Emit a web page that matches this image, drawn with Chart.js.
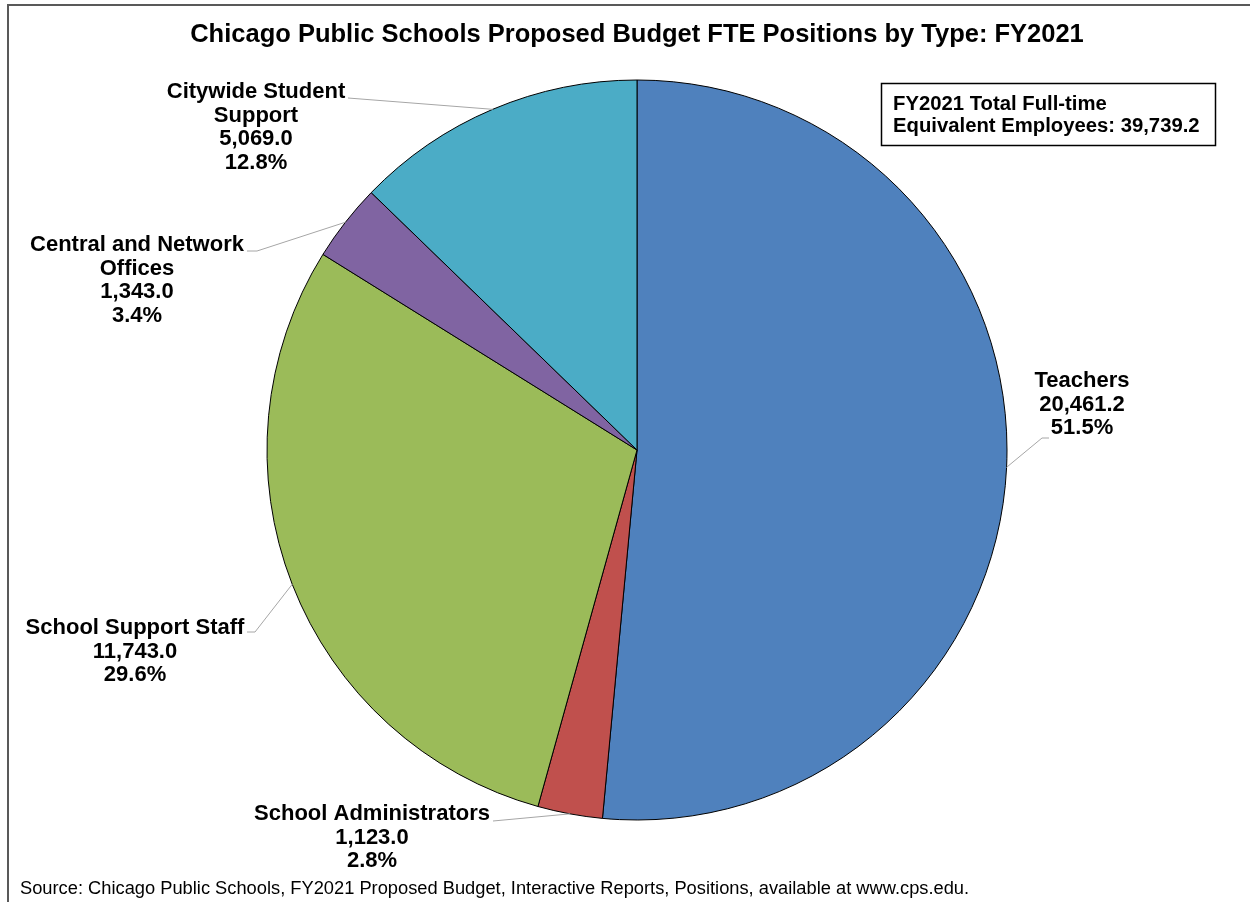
<!DOCTYPE html>
<html>
<head>
<meta charset="utf-8">
<title>CPS FTE Positions by Type FY2021</title>
<script src="https://cdn.jsdelivr.net/npm/chart.js@4"></script>
<style>
  html, body { margin: 0; padding: 0; background: #fff; }
  #wrap { width: 1250px; height: 902px; }
</style>
</head>
<body>
<div id="wrap"><canvas id="fteChart" width="1250" height="902"></canvas></div>
<script>
// Data (FTE positions, FY2021 proposed budget)
const categories = [
  ['Teachers'],
  ['School Administrators'],
  ['School Support Staff'],
  ['Central and Network', 'Offices'],
  ['Citywide Student', 'Support']
];
const fteValues = [20461.2, 1123.0, 11743.0, 1343.0, 5069.0];
const sliceColors = ['#4F81BD', '#C0504D', '#9BBB59', '#8064A2', '#4BACC6'];

const chartTitle = 'Chicago Public Schools Proposed Budget FTE Positions by Type: FY2021';
const totalLines = ['FY2021 Total Full-time', 'Equivalent Employees: '];
const sourceNote = 'Source: Chicago Public Schools, FY2021 Proposed Budget, Interactive Reports, Positions, available at www.cps.edu.';

// Label placement (text centre x, first line y, leader points after the arc)
const labelLayout = [
  { x: 1082, y: 381, leader: [[1042, 438], [1049, 438]] },
  { x: 372,  y: 814, leader: [[493, 821]] },
  { x: 135,  y: 628, leader: [[255, 632], [247, 632]] },
  { x: 137,  y: 245, leader: [[257, 251], [247, 251]] },
  { x: 256,  y: 92,  leader: [[348, 98]] }
];

const FONT = "'Liberation Sans', Arial, sans-serif";
const total = fteValues.reduce((a, b) => a + b, 0);
const fmt = v => v.toLocaleString('en-US', { minimumFractionDigits: 1, maximumFractionDigits: 1 });

// ── draws leader lines, labels, total box, source note and the frame ──
const annotations = {
  id: 'annotations',
  afterDraw(chart) {
    const ctx = chart.ctx;
    const arcs = chart.getDatasetMeta(0).data;
    ctx.save();

    // outer frame (only left and top edges are visible in the original)
    ctx.strokeStyle = '#595959';
    ctx.lineWidth = 2;
    ctx.beginPath();
    ctx.moveTo(8, 902);
    ctx.lineTo(8, 5);
    ctx.lineTo(1250, 5);
    ctx.stroke();

    arcs.forEach((arc, i) => {
      const p = arc.getProps(['x', 'y', 'startAngle', 'endAngle', 'outerRadius'], true);
      const mid = (p.startAngle + p.endAngle) / 2;
      const ax = p.x + Math.cos(mid) * p.outerRadius;
      const ay = p.y + Math.sin(mid) * p.outerRadius;
      const lay = labelLayout[i];

      ctx.strokeStyle = '#A6A6A6';
      ctx.lineWidth = 1;
      ctx.beginPath();
      ctx.moveTo(ax, ay);
      lay.leader.forEach(pt => ctx.lineTo(pt[0], pt[1]));
      ctx.stroke();

      const lines = [...categories[i], fmt(fteValues[i]), (fteValues[i] / total * 100).toFixed(1) + '%'];
      ctx.fillStyle = '#000';
      ctx.font = 'bold 22px ' + FONT;
      ctx.textAlign = 'center';
      ctx.textBaseline = 'middle';
      lines.forEach((t, k) => ctx.fillText(t, lay.x, lay.y + k * 23.6));
    });

    // total box
    ctx.strokeStyle = '#000';
    ctx.lineWidth = 1.5;
    ctx.strokeRect(881.5, 83.5, 334, 62);
    ctx.font = 'bold 20.3px ' + FONT;
    ctx.textAlign = 'left';
    ctx.fillText(totalLines[0], 893, 104.5);
    ctx.fillText(totalLines[1] + fmt(total), 893, 126);

    // source note
    ctx.font = '18.3px ' + FONT;
    ctx.fillText(sourceNote, 20, 889);

    ctx.restore();
  }
};

new Chart(document.getElementById('fteChart'), {
  type: 'pie',
  data: {
    labels: categories,
    datasets: [{
      data: fteValues,
      backgroundColor: sliceColors,
      borderColor: '#000',
      borderWidth: 1
    }]
  },
  options: {
    responsive: false,
    animation: false,
    devicePixelRatio: 1,
    radius: 370,
    layout: { padding: { left: 24, right: 0, top: 0, bottom: 62.3 } },
    plugins: {
      legend: { display: false },
      tooltip: { enabled: false },
      title: {
        display: true,
        text: chartTitle,
        color: '#000',
        font: { family: FONT, size: 25.5, weight: 'bold', lineHeight: 1.2 },
        padding: { top: 19.7, bottom: 10 }
      }
    }
  },
  plugins: [annotations]
});
</script>
</body>
</html>
